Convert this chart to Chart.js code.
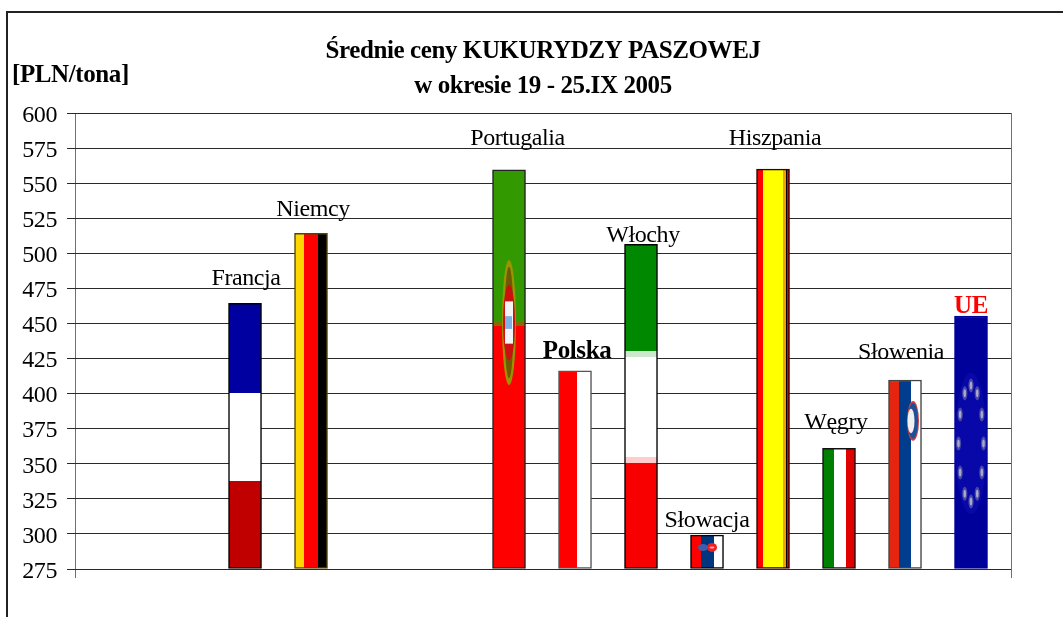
<!DOCTYPE html>
<html>
<head>
<meta charset="utf-8">
<title>Średnie ceny kukurydzy paszowej</title>
<script src="https://cdn.jsdelivr.net/npm/chart.js@4/dist/chart.umd.min.js"></script>
<style>
  html, body { margin: 0; padding: 0; background: #fff; overflow: hidden; }
  canvas { display: block; }
</style>
</head>
<body>
<canvas id="chart" width="1063" height="617"></canvas>
<script>
const countries = ["Francja", "Niemcy", "Portugalia", "Polska", "Włochy", "Słowacja", "Hiszpania", "Węgry", "Słowenia", "UE"];
// slot on the axis, the chart leaves two empty places between Niemcy and Portugalia
const slots = [0, 1, 4, 5, 6, 7, 8, 9, 10, 11];
const prices = [464.4, 514.3, 559.5, 416.3, 506.4, 299.2, 560, 361, 409.7, 455.3];
const yTicks = [275, 300, 325, 350, 375, 400, 425, 450, 475, 500, 525, 550, 575, 600];
const titleLines = ["Średnie ceny KUKURYDZY PASZOWEJ", "w okresie 19 - 25.IX 2005"];
const unitLabel = "[PLN/tona]";

const SERIF = "'Liberation Serif', 'Times New Roman', serif";

// flag look of each bar: direction of the stripes and [colour, fraction where it ends]
const flags = [
  { dir: "h", bands: [["#0000a0", 0.337], ["#ffffff", 0.668], ["#c00000", 1]] },
  { dir: "v", bands: [["#ffd700", 0.29], ["#ff0000", 0.71], ["#000000", 1]] },
  { dir: "h", bands: [["#339900", 0.38], ["#8a6a00", 0.39], ["#ff0000", 1]] },
  { dir: "v", bands: [["#ff0000", 0.56], ["#ffffff", 1]] },
  { dir: "h", bands: [["#008800", 0.329], ["#cce8cc", 0.347], ["#ffffff", 0.655], ["#ffcccc", 0.674], ["#f80000", 1]] },
  { dir: "v", bands: [["#ff0000", 0.31], ["#003580", 0.72], ["#ffffff", 1]] },
  { dir: "v", bands: [["#ff0000", 0.21], ["#ffff00", 0.81], ["#f0a000", 0.88], ["#000000", 0.92], ["#e00000", 1]] },
  { dir: "v", bands: [["#008000", 0.36], ["#ffffff", 0.7], ["#e00000", 1]] },
  { dir: "v", bands: [["#e52510", 0.33], ["#003d8c", 0.68], ["#ffffff", 1]] },
  { dir: "v", bands: [["#00009a", 1]] }
];
const frameColors = ["#000", "#554400", "#222", "#555", "#000", "#000", "#300", "#111", "#444", "#00009a"];

// [offset from bar centre, offset from bar top] of every name
const labelNudge = [[1, -25], [2, -24], [8.5, -31], [2, -19], [2, -9], [0, -14], [2, -30], [-3, -26], [-4, -27], [0, -9]];

function flagFill(context) {
  const i = context.dataIndex;
  const chart = context.chart;
  const flag = flags[i];
  if (!chart.chartArea || !flag) return "#888";
  const cx = chart.scales.x.getPixelForValue(slots[i]);
  const top = chart.scales.y.getPixelForValue(prices[i]);
  const base = chart.scales.y.getPixelForValue(275);
  // scales have no size yet on the first pass
  if (!isFinite(cx) || !isFinite(top) || !isFinite(base)) return "#888";
  const g = flag.dir === "h"
    ? chart.ctx.createLinearGradient(0, top, 0, base)
    : chart.ctx.createLinearGradient(cx - 16.5, 0, cx + 16.5, 0);
  let start = 0;
  flag.bands.forEach(([color, end]) => {
    g.addColorStop(start, color);
    g.addColorStop(end, color);
    start = end;
  });
  return g;
}

function ellipse(ctx, x, y, rx, ry, fill) {
  ctx.fillStyle = fill;
  ctx.beginPath();
  ctx.ellipse(x, y, rx, ry, 0, 0, Math.PI * 2);
  ctx.fill();
}

// small emblems squeezed by the flag stretching, placed relative to their bar
const emblems = {
  "Portugalia": (ctx, b) => {
    const cy = b.top + b.h * 0.383;
    ellipse(ctx, b.cx, cy, 7, b.h * 0.157, "#9a9400");
    ellipse(ctx, b.cx, cy, 4.5, b.h * 0.14, "#6e5a00");
    ellipse(ctx, b.cx, cy, 6, b.h * 0.095, "#cc1010");
    ctx.fillStyle = "#f4f4f8";
    ctx.fillRect(b.cx - 4, cy - b.h * 0.053, 8, b.h * 0.106);
    ctx.fillStyle = "#7fb2e5";
    ctx.fillRect(b.cx - 4, cy - b.h * 0.016, 7, b.h * 0.032);
  },
  "Słowacja": (ctx, b) => {
    const cy = b.top + b.h * 0.37;
    ellipse(ctx, b.cx - 4, cy, 5, 3.5, "#3a5fb0");
    ellipse(ctx, b.cx + 5, cy, 5, 4.5, "#f02020");
    ellipse(ctx, b.cx + 5, cy, 2.5, 1, "#ffb0b0");
  },
  "Słowenia": (ctx, b) => {
    const cy = b.top + b.h * 0.217;
    const cx = b.cx + 8;
    ellipse(ctx, cx, cy, 6, b.h * 0.105, "#d04040");
    ellipse(ctx, cx, cy, 5, b.h * 0.095, "#1f4f98");
    ellipse(ctx, cx - 2, cy, 3.5, b.h * 0.065, "#f0f0f0");
  },
  "UE": (ctx, b) => {
    const cy = b.top + b.h * 0.505;
    ellipse(ctx, b.cx, cy, 16, b.h * 0.28, "#0808a8");
    for (let k = 0; k < 12; k++) {
      const a = k * Math.PI / 6;
      const x = b.cx + 12.5 * Math.sin(a);
      const y = cy - b.h * 0.23 * Math.cos(a);
      ellipse(ctx, x, y, 2.6, 7, "#4848a8");
      ellipse(ctx, x, y, 1.3, 4, "#a8a8c8");
    }
  }
};

const flagDetails = {
  id: "flagDetails",
  beforeDraw(chart) {
    chart.ctx.letterSpacing = "-0.4px";
  },
  afterDatasetsDraw(chart) {
    const ctx = chart.ctx;
    const bars = chart.getDatasetMeta(0).data;
    ctx.save();
    bars.forEach((bar, i) => {
      const b = { cx: bar.x, top: bar.y, h: bar.base - bar.y };
      if (emblems[countries[i]]) emblems[countries[i]](ctx, b);
    });
    ctx.textAlign = "center";
    ctx.textBaseline = "middle";
    bars.forEach((bar, i) => {
      const name = countries[i];
      const strong = name === "Polska" || name === "UE";
      ctx.font = strong ? "bold 25px " + SERIF : "24px " + SERIF;
      ctx.fillStyle = name === "UE" ? "#ff0000" : "#000";
      ctx.fillText(name, bar.x + labelNudge[i][0], bar.y + labelNudge[i][1]);
    });
    ctx.textAlign = "left";
    ctx.font = "bold 25px " + SERIF;
    ctx.fillStyle = "#000";
    ctx.fillText(unitLabel, 12, 76);
    // outer frame runs off the picture on the right and at the bottom
    ctx.strokeStyle = "#222";
    ctx.lineWidth = 2;
    ctx.beginPath();
    ctx.moveTo(7, 617);
    ctx.lineTo(7, 12);
    ctx.lineTo(1063, 12);
    ctx.stroke();
    ctx.restore();
  }
};

new Chart(document.getElementById("chart"), {
  type: "bar",
  data: {
    datasets: [{
      data: slots.map((s, i) => ({ x: s, y: prices[i] })),
      base: 275,
      barThickness: 33,
      backgroundColor: flagFill,
      borderColor: frameColors,
      borderWidth: 1.5,
      borderSkipped: false
    }]
  },
  plugins: [flagDetails],
  options: {
    responsive: false,
    animation: false,
    layout: { padding: { left: 0, right: 52, top: 0, bottom: 0 } },
    plugins: {
      legend: { display: false },
      tooltip: { enabled: false },
      title: {
        display: true,
        fullSize: false,
        text: titleLines,
        color: "#000",
        font: { family: SERIF, size: 25, weight: "bold", lineHeight: "35px" },
        padding: { top: 34.5, bottom: 8.5 }
      }
    },
    scales: {
      x: {
        type: "linear",
        offset: false,
        min: -2.576,
        max: 11.606,
        afterBuildTicks(scale) {
          scale.ticks = [{ value: scale.min }, { value: scale.max }];
        },
        afterFit(scale) {
          scale.height = 48;
        },
        ticks: { display: false },
        border: { display: false },
        grid: { offset: false, color: "#707070", tickLength: 9, lineWidth: 1 }
      },
      y: {
        min: 275,
        max: 600,
        afterBuildTicks(scale) {
          scale.ticks = yTicks.map(v => ({ value: v }));
        },
        afterFit(scale) {
          scale.width = 75;
        },
        border: { display: false },
        grid: { color: "#2a2a2a", tickLength: 8, lineWidth: 1 },
        ticks: {
          color: "#000",
          padding: 10,
          labelOffset: 2.5,
          autoSkip: false,
          font: { family: SERIF, size: 24 }
        }
      }
    }
  }
});
</script>
</body>
</html>
